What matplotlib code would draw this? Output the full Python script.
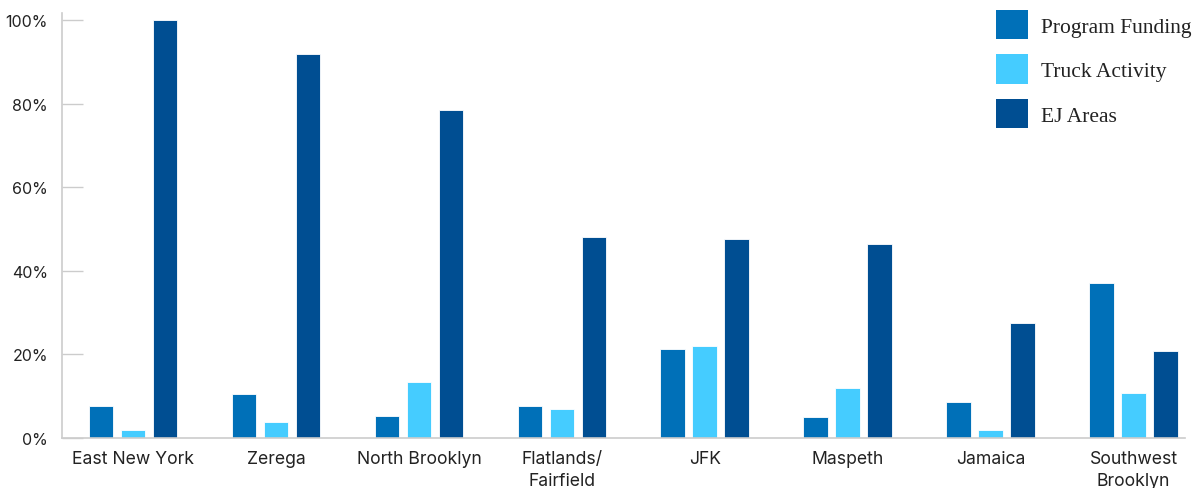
import matplotlib
matplotlib.use("Agg")
import matplotlib.pyplot as plt
import numpy as np
from matplotlib.patches import Patch

categories = ["East New York", "Zerega", "North Brooklyn", "Flatlands/\nFairfield",
              "JFK", "Maspeth", "Jamaica", "Southwest\nBrooklyn"]
program_funding = [7.7, 10.5, 5.3, 7.7, 21.3, 5.0, 8.6, 37.1]
truck_activity = [1.9, 3.8, 13.4, 6.9, 22.0, 12.0, 1.9, 10.8]
ej_areas = [100.0, 91.9, 78.5, 48.1, 47.6, 46.4, 27.5, 20.8]
series_names = ["Program Funding", "Truck Activity", "EJ Areas"]
colors = ["#0070b8", "#45ccff", "#004e92"]
yticks = [0, 20, 40, 60, 80, 100]

W, H = 1204, 489
fig = plt.figure(figsize=(W / 100, H / 100), dpi=100)
ax = fig.add_axes([62 / W, 1 - 439 / H, (1185 - 62) / W, (439 - 14) / H])

x = np.arange(len(categories))
bw = 0.172
step = 0.224
for i, (vals, c) in enumerate(zip([program_funding, truck_activity, ej_areas], colors)):
    ax.bar(x + (i - 1) * step, vals, width=bw, color=c, edgecolor="white", linewidth=0.6)

ax.set_xlim(-0.497, 7.36)
ax.set_ylim(0, 101.7)
ax.set_yticks(yticks)
ax.set_yticklabels([f"{t}%" for t in yticks], fontsize=11.5, color="#222222", family="Inter")
ax.set_xticks(x)
ax.set_xticklabels(categories, fontsize=12.7, color="#222222", family="Inter", linespacing=1.35)
ax.tick_params(axis="y", direction="in", length=15, color="#cccccc", width=1, pad=10)
ax.tick_params(axis="x", length=0, pad=9)
for s in ["top", "right"]:
    ax.spines[s].set_visible(False)
for s in ["left", "bottom"]:
    ax.spines[s].set_color("#cccccc")
    ax.spines[s].set_linewidth(1.2)

handles = [Patch(facecolor=c, edgecolor="none") for c in colors]
leg = fig.legend(handles, series_names, loc="upper left", bbox_to_anchor=(981 / W, 1 + 4 / H),
                 frameon=False, prop={"family": "Liberation Serif", "size": 15.5},
                 handlelength=1.49, handleheight=1.72, labelspacing=0.7, handletextpad=0.62,
                 borderpad=0.2)
for t in leg.get_texts():
    t.set_color("#222222")

fig.savefig("out.png", dpi=100)
